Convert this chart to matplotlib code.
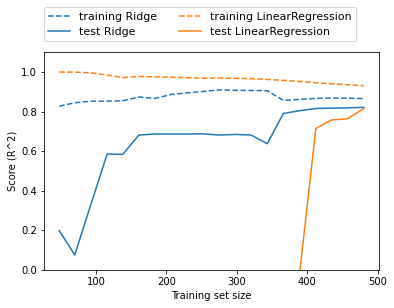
import matplotlib
matplotlib.use("Agg")
import matplotlib.pyplot as plt
import numpy as np

train_sizes = [48, 70, 93, 116, 138, 161, 184, 207, 229, 252,
               275, 298, 320, 343, 366, 389, 412, 434, 457, 480]

ridge_train = [0.828, 0.845, 0.853, 0.853, 0.855, 0.874, 0.867, 0.887, 0.895, 0.902,
               0.910, 0.908, 0.907, 0.906, 0.857, 0.862, 0.867, 0.869, 0.868, 0.866]
ridge_test = [0.199, 0.076, 0.333, 0.586, 0.584, 0.682, 0.687, 0.687, 0.687, 0.688,
              0.682, 0.685, 0.682, 0.638, 0.791, 0.805, 0.816, 0.818, 0.819, 0.822]

lr_train = [1.000, 1.000, 0.996, 0.985, 0.972, 0.978, 0.976, 0.974, 0.972, 0.969,
            0.970, 0.968, 0.967, 0.963, 0.958, 0.953, 0.946, 0.941, 0.936, 0.931]
lr_test = [-3.5, -2.8, -2.1, -1.6, -1.2, -0.9, -0.7, -0.55, -0.45, -0.35,
           -0.28, -0.22, -0.17, -0.12, -0.08, -0.015, 0.715, 0.758, 0.764, 0.816]

fig = plt.figure(figsize=(394/72, 308/72), dpi=72)
ax = fig.add_axes([0.1117, 0.1234, 0.8503, 0.7068])

line, = ax.plot(train_sizes, ridge_train, '--', label="training Ridge")
ax.plot(train_sizes, ridge_test, '-', c=line.get_color(), label="test Ridge")
line, = ax.plot(train_sizes, lr_train, '--', label="training LinearRegression")
ax.plot(train_sizes, lr_test, '-', c=line.get_color(), label="test LinearRegression")

ax.set_xlabel("Training set size")
ax.set_ylabel("Score (R^2)")
ax.set_ylim(0, 1.1)
ax.legend(loc=(0, 1.05), ncol=2, fontsize=11)

fig.savefig("out.png", dpi=72)
